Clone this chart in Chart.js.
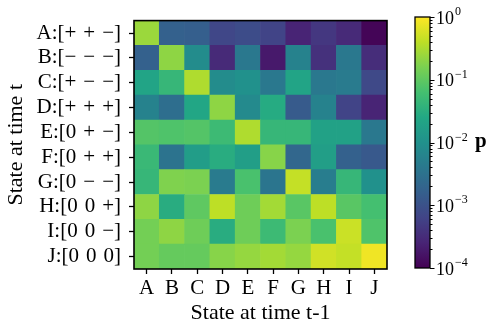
<!DOCTYPE html>
<html><head><meta charset="utf-8">
<script src="https://cdn.jsdelivr.net/npm/chart.js@4"></script>
<style>
html,body{margin:0;padding:0;background:#fff;width:490px;height:324px;overflow:hidden}
#main{position:absolute;left:0;top:0}
#cbar{position:absolute;left:400px;top:0}
#plabel{position:absolute;left:475px;top:128px;font:bold 21px "Liberation Serif",serif;color:#000}
</style></head><body>
<canvas id="main" width="400" height="324"></canvas>
<canvas id="cbar" width="90" height="324"></canvas>
<div id="plabel">p</div>
<script>
// ---- data ----
const colLabels = ['A','B','C','D','E','F','G','H','I','J'];
const rowLabels = ['A:[+\u2004+\u2004−]','B:[−\u2004−\u2004−]','C:[+\u2004−\u2004−]','D:[+\u2004+\u2004+]','E:[0\u2004+\u2004−]','F:[0\u2004+\u2004+]','G:[0\u2004−\u2004−]','H:[0\u20040\u2004+]','I:[0\u20040\u2004−]','J:[0\u20040\u20040]'];
const rowA = [0.25, 0.0017, 0.0016, 0.0007, 0.00083, 0.00063, 0.00025, 0.00044, 0.0003, 0.00011];
const rowB = [0.0017, 0.21, 0.0083, 0.0003, 0.004, 0.00019, 0.0058, 0.00036, 0.004, 0.00033];
const rowC = [0.021, 0.044, 0.33, 0.0083, 0.01, 0.004, 0.021, 0.004, 0.0044, 0.00076];
const rowD = [0.0058, 0.0028, 0.023, 0.21, 0.0076, 0.028, 0.0014, 0.0058, 0.00063, 0.00025];
const rowE = [0.083, 0.076, 0.083, 0.052, 0.33, 0.044, 0.044, 0.019, 0.019, 0.004];
const rowF = [0.048, 0.0033, 0.016, 0.03, 0.017, 0.19, 0.0021, 0.017, 0.0017, 0.0013];
const rowG = [0.044, 0.17, 0.16, 0.0044, 0.069, 0.0036, 0.44, 0.0048, 0.044, 0.01];
const rowH = [0.21, 0.03, 0.1, 0.4, 0.13, 0.28, 0.091, 0.4, 0.091, 0.063];
const rowI = [0.14, 0.21, 0.13, 0.03, 0.13, 0.052, 0.16, 0.069, 0.48, 0.076];
const rowJ = [0.14, 0.11, 0.11, 0.19, 0.23, 0.28, 0.23, 0.52, 0.44, 0.83];
const matrix = [rowA,rowB,rowC,rowD,rowE,rowF,rowG,rowH,rowI,rowJ];
const cbarMin = 1e-4, cbarMax = 1;
const cbarExponents = [0,-1,-2,-3,-4];

// ---- colormap ----
const viridis = ['#440154','#482475','#414487','#355f8d','#2a788e','#21918c','#22a884','#44bf70','#7ad151','#bddf26','#fde725'];
function hex2rgb(h){return [1,3,5].map(i=>parseInt(h.substr(i,2),16));}
const vrgb = viridis.map(hex2rgb);
function colorFor(v){
  const lo=Math.log10(cbarMin), hi=Math.log10(cbarMax);
  let t=(Math.log10(v)-lo)/(hi-lo); t=Math.max(0,Math.min(1,t));
  const f=t*(vrgb.length-1); const i=Math.min(vrgb.length-2,Math.floor(f)); const u=f-i;
  const c=vrgb[i].map((a,k)=>Math.round(a+(vrgb[i+1][k]-a)*u));
  return 'rgb('+c.join(',')+')';
}

Chart.defaults.font.family = "'Liberation Serif', 'Times New Roman', serif";
Chart.defaults.color = '#000';

const datasets = matrix.map((row,i)=>({
  label: rowLabels[i],
  data: row.map(()=>1),
  backgroundColor: row.map(colorFor),
  borderWidth: 0,
  barPercentage: 1,
  categoryPercentage: 1
})).reverse();

const boxPlugin = {
  id:'box',
  afterDraw(chart){
    const {ctx, chartArea:a} = chart;
    ctx.save(); ctx.strokeStyle='#000'; ctx.lineWidth=1.6;
    ctx.strokeRect(a.left, a.top, a.right-a.left, a.bottom-a.top);
    ctx.restore();
  }
};

new Chart(document.getElementById('main'), {
  type:'bar',
  data:{labels: colLabels, datasets},
  options:{
    responsive:false, animation:false,
    layout:{padding:{top:17,right:13,left:0,bottom:0}},
    plugins:{legend:{display:false}, tooltip:{enabled:false}},
    scales:{
      x:{
        stacked:true, offset:true,
        grid:{offset:false, drawOnChartArea:false, drawTicks:true, tickLength:5, tickColor:'#000', tickWidth:1.3},
        border:{display:false},
        ticks:{font:{size:21}, padding:2, maxRotation:0},
        title:{display:true, text:'State at time t-1', font:{size:22, lineHeight:1}, padding:0},
        afterFit(s){ s.height = 55; }
      },
      y:{
        stacked:true, min:0, max:10,
        afterBuildTicks(s){ s.ticks = rowLabels.map((_,i)=>({value: 9.5 - i})); },
        grid:{drawOnChartArea:false, drawTicks:true, tickLength:5, tickColor:'#000', tickWidth:1.3},
        border:{display:false},
        ticks:{font:{size:21}, padding:8, autoSkip:false, callback:(v)=>rowLabels[Math.round(9.5 - v)]},
        title:{display:true, text:'State at time t', font:{size:22, lineHeight:1.2}, padding:{top:3,bottom:0}},
        afterFit(s){ s.width = 134; }
      }
    }
  },
  plugins:[boxPlugin]
});

const cbarPlugin = {
  id:'cbar',
  afterDraw(chart){
    const {ctx, chartArea:a} = chart;
    const s = chart.scales.y;
    ctx.save();
    ctx.strokeStyle='#000'; ctx.lineWidth=1.3;
    ctx.strokeRect(a.left, a.top, a.right-a.left, a.bottom-a.top);
    ctx.lineWidth=1;
    for(let e=-4;e<0;e++){
      for(let k=1;k<=9;k++){
        const y=Math.round(s.getPixelForValue(k*Math.pow(10,e)))+0.5;
        const len = k===1?4.5:2.5;
        ctx.beginPath(); ctx.moveTo(a.right,y); ctx.lineTo(a.right+len,y); ctx.stroke();
      }
    }
    const yTop=Math.round(s.getPixelForValue(1))+0.5;
    ctx.beginPath(); ctx.moveTo(a.right,yTop); ctx.lineTo(a.right+4.5,yTop); ctx.stroke();
    ctx.fillStyle='#000'; ctx.textBaseline='middle'; ctx.textAlign='left';
    cbarExponents.forEach(e=>{
      const y=s.getPixelForValue(Math.pow(10,e));
      ctx.font="18px 'Liberation Serif', serif";
      const x=a.right+6;
      ctx.fillText('10', x, y+2);
      const w=ctx.measureText('10').width;
      ctx.font="12px 'Liberation Serif', serif";
      ctx.fillText(e===0?'0':'−'+(-e), x+w+1, y-5);
    });
    ctx.restore();
  }
};

new Chart(document.getElementById('cbar'), {
  type:'bar',
  data:{labels:['p'], datasets:[{
    data:[[cbarMin, cbarMax]],
    borderWidth:0, barPercentage:1, categoryPercentage:1,
    backgroundColor:(c)=>{
      const {ctx, chartArea} = c.chart;
      if(!chartArea) return viridis[0];
      const g=ctx.createLinearGradient(0,chartArea.bottom,0,chartArea.top);
      viridis.forEach((col,i)=>g.addColorStop(i/(viridis.length-1), col));
      return g;
    }
  }]},
  options:{
    responsive:false, animation:false,
    layout:{padding:{top:17,left:15,right:0,bottom:56}},
    plugins:{legend:{display:false}, tooltip:{enabled:false}},
    scales:{
      x:{display:false},
      y:{type:'logarithmic', position:'right', min:cbarMin, max:cbarMax,
         ticks:{display:false}, grid:{display:false}, border:{display:false},
         afterFit(s){ s.width = 60; }}
    }
  },
  plugins:[cbarPlugin]
});
</script>
</body></html>
